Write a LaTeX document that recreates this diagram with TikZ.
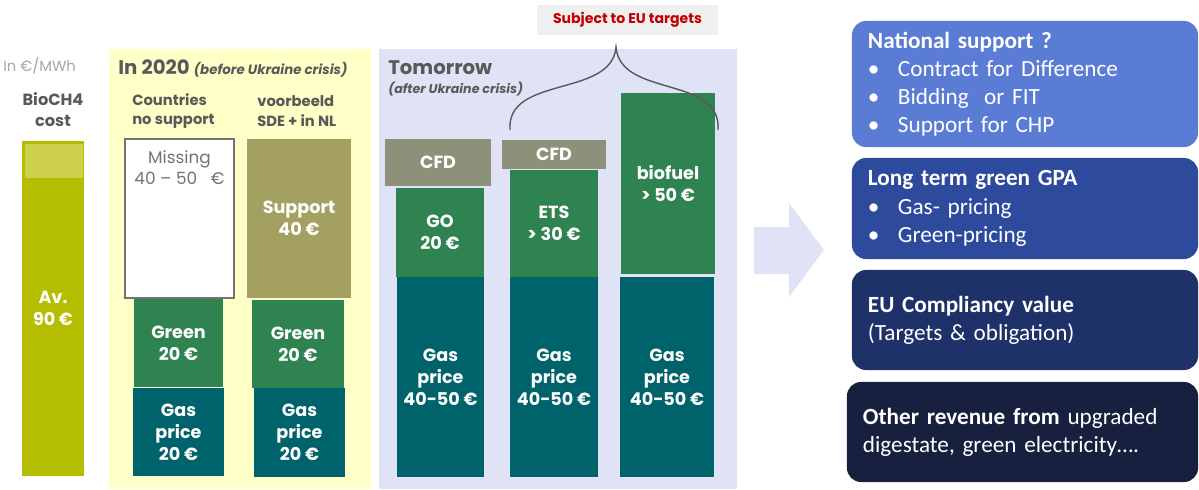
\documentclass[tikz,border=0pt]{standalone}
\usepackage{fontspec}
\usepackage{xcolor}
\usepackage{tikz}
\setmainfont{Poppins}
\newfontfamily\cardfamily{Carlito}

\definecolor{olivebar}{HTML}{B5BD00}
\definecolor{olivetop}{HTML}{CCD04B}
\definecolor{paleyellow}{HTML}{FFFFC8}
\definecolor{paleblue}{HTML}{DFE3F5}
\definecolor{greenc}{HTML}{2F8350}
\definecolor{gasc}{HTML}{00626A}
\definecolor{supportc}{HTML}{A3A062}
\definecolor{cfdc}{HTML}{8E917A}
\definecolor{headgray}{HTML}{595959}
\definecolor{unitgray}{HTML}{A6A6A6}
\definecolor{subjred}{HTML}{C00000}
\definecolor{subjbg}{HTML}{EFEFEF}
\definecolor{cardA}{HTML}{5B7CD4}
\definecolor{cardB}{HTML}{2E4A9C}
\definecolor{cardC}{HTML}{1F3169}
\definecolor{cardD}{HTML}{17213F}

\newcommand{\barfont}{\bfseries\fontsize{12.5}{15.5}\selectfont}
\newcommand{\bul}{\makebox[0.75cm][l]{•}}

\tikzset{every picture/.style={x=0.025cm,y=-0.025cm},
  bar/.style={rectangle, inner sep=0pt, align=center, text=white, font=\barfont},
  headtext/.style={inner sep=0pt, text=headgray, font=\bfseries\fontsize{10.5}{14}\selectfont, align=left},
  card/.style={rectangle, rounded corners=0.35cm, inner xsep=0.4cm, inner ysep=0pt, text width=7.85cm,
    align=left, text=white, font=\cardfamily\fontsize{16.5}{20}\selectfont}}

\begin{document}
\begin{tikzpicture}
        \useasboundingbox (0,0) rectangle (1199,489);

        % panels
        \fill[paleyellow] (109,49) rectangle (371,489);
        \fill[paleblue] (379,49) rectangle (737,489);

        % cost column
        \node[inner sep=0pt, anchor=west, text=unitgray, font=\fontsize{10.5}{12}\selectfont] (unit) at (3,66) {In €/MWh};
        \node[headtext, align=center, font=\bfseries\fontsize{11.5}{15}\selectfont] (cost) at (53,110) {BioCH4\\cost};
        \node[bar, fill=olivebar, minimum width=1.55cm, minimum height=8.375cm] (avg) at (53,308.5) {Av.\\90 €};
        \node[bar, fill=olivetop, minimum width=1.45cm, minimum height=0.85cm] (avgtop) at (54,161) {};

        % in 2020
        \node[headtext, anchor=west, font=\bfseries\fontsize{14}{16}\selectfont] (y2020) at (118,69)
          {In 2020 {\fontsize{9.5}{11}\selectfont\itshape (before Ukraine crisis)}};
        \node[headtext, anchor=west] (nosup) at (132,111) {Countries\\no support};
        \node[headtext, anchor=west] (sde) at (257,111) {voorbeeld\\SDE + in NL};
        \node[draw=black!55, fill=white, line width=0.8pt, minimum width=2.725cm, minimum height=3.975cm] (missing) at (179.5,218.5) {};
        \node[inner sep=0pt, align=center, text=black!55, font=\fontsize{12}{15}\selectfont] (missingtxt) at (179.5,168) {Missing\\40 – 50\ \ \ €};
        \node[bar, fill=supportc, minimum width=2.6cm, minimum height=3.975cm] (support) at (299,218.5) {Support\\40 €};
        \node[bar, fill=greenc, minimum width=2.225cm, minimum height=2.2cm] (green1) at (178.5,343) {Green\\20 €};
        \node[bar, fill=greenc, minimum width=2.3cm, minimum height=2.2cm] (green2) at (298,344) {Green\\20 €};
        \node[bar, fill=gasc, minimum width=2.275cm, minimum height=2.2cm] (gas1) at (178.5,432) {Gas\\price\\20 €};
        \node[bar, fill=gasc, minimum width=2.275cm, minimum height=2.225cm] (gas2) at (299.5,432.5) {Gas\\price\\20 €};

        % tomorrow
        \node[headtext, anchor=west, font=\bfseries\fontsize{14}{16}\selectfont] (tomorrow) at (388,68) {Tomorrow};
        \node[headtext, anchor=west, font=\bfseries\itshape\fontsize{9}{11}\selectfont] (after) at (388,89) {(after Ukraine crisis)};
        \node[bar, fill=cfdc, minimum width=2.625cm, minimum height=1.175cm] (cfd1) at (438,162) {CFD};
        \node[bar, fill=cfdc, minimum width=2.6cm, minimum height=0.725cm] (cfd2) at (554,154.5) {CFD};
        \node[bar, fill=greenc, minimum width=2.2cm, minimum height=2.225cm] (go) at (440,232.5) {GO\\20 €};
        \node[bar, fill=greenc, minimum width=2.2cm, minimum height=2.675cm] (ets) at (554,223.5) {ETS\\> 30 €};
        \node[bar, fill=greenc, minimum width=2.35cm, minimum height=4.525cm] (biofuel) at (668,183.5) {biofuel\\> 50 €};
        \foreach \name/\x/\w in {gas3/440.5/2.175, gas4/554/2.2, gas5/667/2.35}
          \node[bar, fill=gasc, minimum width=\w cm, minimum height=4.975cm] (\name) at (\x,377) {Gas\\price\\40-50 €};

        % eu targets
        \node[fill=subjbg, text=subjred, font=\bfseries\fontsize{10}{12}\selectfont, minimum width=4.525cm, minimum height=0.75cm] (subject) at (627.5,20) {Subject to EU targets};
        \coordinate (bl) at (510,130);
        \coordinate (br) at (718,130);
        \coordinate (peak) at (616,47);
        \draw[headgray, line width=1pt] (bl) .. controls (506,75) and (612,98) .. (peak)
          .. controls (620,98) and (722,75) .. (br);

        % arrow
        \fill[paleblue] (754,227) -- (789,227) -- (789,203) -- (824,250) -- (789,297) -- (789,274) -- (754,274) -- cycle;

        % revenue cards
        \node[card, fill=cardA, minimum height=3.15cm] (national) at (1025,84)
          {\textbf{National support ?}\\\bul Contract for Difference\\\bul Bidding\ \ or FIT\\\bul Support for CHP};
        \node[card, fill=cardB, minimum height=2.525cm] (gpa) at (1025,208.5)
          {\textbf{Long term green GPA}\\\bul Gas- pricing\\\bul Green-pricing};
        \node[card, fill=cardC, minimum height=2.5cm] (eu) at (1025,320)
          {\textbf{EU Compliancy value}\\(Targets \& obligation)};
        \node[card, fill=cardD, text width=7.975cm, minimum height=2.5cm] (other) at (1022.5,432)
          {\textbf{Other revenue from} upgraded\\digestate, green electricity….};
    \end{tikzpicture}
\end{document}
